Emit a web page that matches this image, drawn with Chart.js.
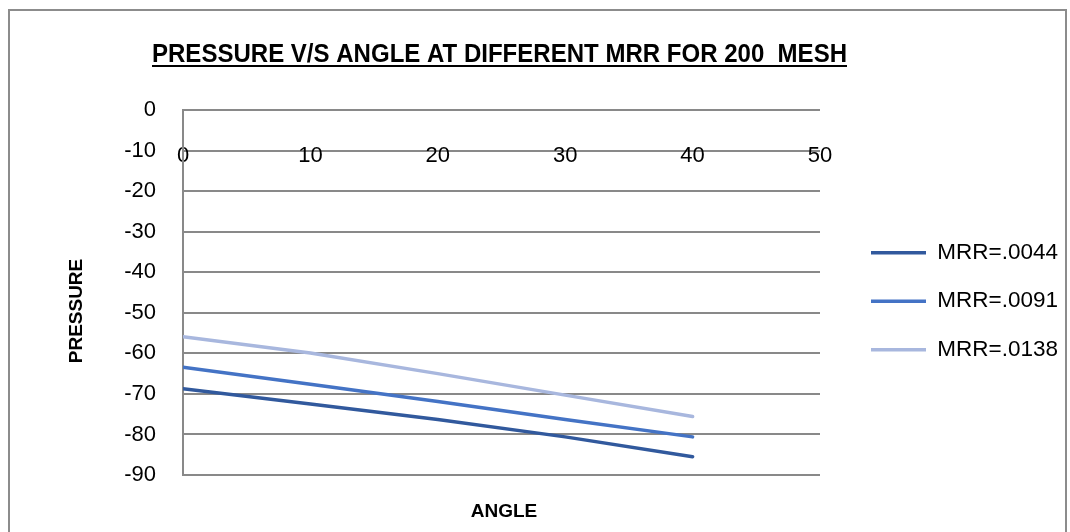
<!DOCTYPE html>
<html>
<head>
<meta charset="utf-8">
<title>Pressure v/s Angle at different MRR for 200 mesh</title>
<script src="https://cdn.jsdelivr.net/npm/chart.js@4.4.1/dist/chart.umd.min.js"></script>
<style>
  html, body { margin: 0; padding: 0; background: #ffffff; }
  #wrap { width: 1070px; height: 532px; }
</style>
</head>
<body>
<div id="wrap"><canvas id="chart" width="1070" height="532"></canvas></div>
<script>
// Angle (degrees) at which pressure was recorded
const angles = [0, 10, 20, 30, 40];

// Pressure for each material removal rate
const pressureMrr0044 = [-68.7, -72.5, -76.3, -80.6, -85.5];
const pressureMrr0091 = [-63.4, -67.6, -71.9, -76.3, -80.6];
const pressureMrr0138 = [-55.9, -59.9, -65.0, -70.3, -75.6];

const seriesNames = ['MRR=.0044', 'MRR=.0091', 'MRR=.0138'];
const seriesColors = ['#31599d', '#4473c5', '#a8b7de'];

// Axis tick values
const angleTicks = [0, 10, 20, 30, 40, 50];
const pressureTicks = [0, -10, -20, -30, -40, -50, -60, -70, -80, -90];

const chartTitle = 'PRESSURE V/S ANGLE AT DIFFERENT MRR FOR 200  MESH';
const xTitle = 'ANGLE';
const yTitle = 'PRESSURE';

const FONT = '"Liberation Sans", Arial, sans-serif';
const GRID = '#898989';

const toPoints = (vals) => angles.map((a, i) => ({ x: a, y: vals[i] }));
const seriesValues = [pressureMrr0044, pressureMrr0091, pressureMrr0138];

// Legend geometry. With three side boxes (y axis, spacer, legend) the
// layout caps the legend at a sixth of the remaining width, so the right
// padding is chosen to put the legend's left edge at legendLeft; the box
// is then widened after layout so the labels are not clipped.
const legendFontSize = 22.5;
const legendPad = 26;
const legendLine = 55;
const legendLeft = 845;
const plotRight = 820;
const rightPad = 1070 - legendLeft * 6 / 5;

const widenLegend = {
  id: 'widenLegend',
  afterLayout(chart) {
    const lg = chart.legend;
    if (!lg) return;
    lg.right = chart.width - 2;
    lg.width = lg.right - lg.left;
  }
};

// Frame, chart title and axis titles
const decorations = {
  id: 'decorations',
  beforeDraw(chart) {
    const ctx = chart.ctx;
    ctx.save();
    ctx.fillStyle = '#ffffff';
    ctx.fillRect(0, 0, chart.width, chart.height);
    ctx.strokeStyle = '#8c8c8c';
    ctx.lineWidth = 2;
    ctx.strokeRect(9, 10, 1057, 600);
    ctx.restore();
  },
  afterDraw(chart) {
    const ctx = chart.ctx;
    ctx.save();
    ctx.fillStyle = '#000000';

    // Main title, fitted to its box and underlined
    ctx.font = 'bold 25px ' + FONT;
    const tw = ctx.measureText(chartTitle).width;
    const boxLeft = 152, boxWidth = 695;
    ctx.save();
    ctx.translate(boxLeft + boxWidth / 2, 62);
    ctx.scale(boxWidth / tw, 1);
    ctx.textAlign = 'center';
    ctx.textBaseline = 'alphabetic';
    ctx.fillText(chartTitle, 0, 0);
    ctx.restore();
    ctx.fillRect(boxLeft, 65, boxWidth, 2);

    // Axis titles
    ctx.font = 'bold 19px ' + FONT;
    ctx.textAlign = 'center';
    ctx.textBaseline = 'middle';
    ctx.fillText(xTitle, 504, 512);
    ctx.save();
    ctx.translate(77, 311);
    ctx.rotate(-Math.PI / 2);
    ctx.fillText(yTitle, 0, 0);
    ctx.restore();

    ctx.restore();
  }
};

new Chart(document.getElementById('chart'), {
  type: 'line',
  data: {
    datasets: seriesValues.map((vals, i) => ({
      label: seriesNames[i],
      data: toPoints(vals),
      borderColor: seriesColors[i],
      backgroundColor: seriesColors[i],
      borderWidth: 3.5,
      borderCapStyle: 'round',
      pointRadius: 0,
      pointHoverRadius: 0,
      tension: 0,
      fill: false
    }))
  },
  options: {
    responsive: false,
    devicePixelRatio: 1,
    animation: false,
    events: [],
    layout: { padding: { top: 110, bottom: 57, left: 0, right: rightPad } },
    plugins: {
      title: { display: false },
      tooltip: { enabled: false },
      legend: {
        display: true,
        position: 'right',
        align: 'center',
        title: { display: true, text: '', font: { size: 14.5 }, padding: 0 },
        labels: {
          usePointStyle: true,
          pointStyle: 'line',
          pointStyleWidth: legendLine,
          boxWidth: legendLine,
          padding: legendPad,
          color: '#000000',
          font: { family: FONT, size: legendFontSize }
        }
      }
    },
    scales: {
      x: {
        type: 'linear',
        position: { y: 0 },
        min: angleTicks[0],
        max: angleTicks[angleTicks.length - 1],
        afterBuildTicks(scale) { scale.ticks = angleTicks.map(v => ({ value: v })); },
        grid: { display: false, drawTicks: false },
        border: { display: false },
        ticks: {
          padding: 33,
          color: '#000000',
          font: { family: FONT, size: 22 },
          maxRotation: 0,
          autoSkip: false
        }
      },
      y: {
        type: 'linear',
        position: 'left',
        min: pressureTicks[pressureTicks.length - 1],
        max: pressureTicks[0],
        afterBuildTicks(scale) { scale.ticks = pressureTicks.slice().reverse().map(v => ({ value: v })); },
        afterFit(scale) { scale.width = 183; },
        grid: { color: GRID, lineWidth: 2, drawTicks: false },
        border: { display: true, color: GRID, width: 2 },
        ticks: {
          padding: 27,
          color: '#000000',
          font: { family: FONT, size: 22 },
          autoSkip: false
        }
      },
      spacer: {
        type: 'linear',
        position: 'right',
        display: true,
        afterFit(scale) { scale.width = legendLeft - plotRight; },
        grid: { display: false, drawTicks: false },
        border: { display: false },
        ticks: { display: false }
      }
    }
  },
  plugins: [widenLegend, decorations]
});
</script>
</body>
</html>
